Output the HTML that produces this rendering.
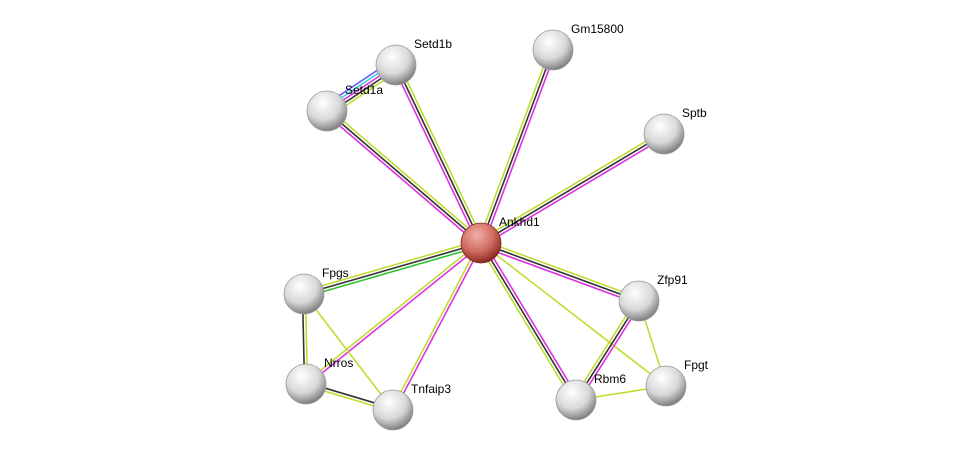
<!DOCTYPE html>
<html><head><meta charset="utf-8"><style>
html,body{margin:0;padding:0;background:#fff;width:976px;height:455px;overflow:hidden}
text{font-family:"Liberation Sans",sans-serif;font-size:12px;fill:#000}
</style></head><body>
<svg id="s" width="976" height="455" xmlns="http://www.w3.org/2000/svg">
<defs>
<radialGradient id="g" cx="40%" cy="30%" r="70%">
<stop offset="0" stop-color="#ffffff"/><stop offset="0.6" stop-color="#d8d8d8"/><stop offset="1" stop-color="#808080"/></radialGradient>
<radialGradient id="r" cx="40%" cy="30%" r="70%">
<stop offset="0" stop-color="#f2b0a8"/><stop offset="0.6" stop-color="#d06a60"/><stop offset="1" stop-color="#8a2a22"/></radialGradient>
</defs>
<g id="edges"></g><g id="nodes"></g>
</svg>
<script>
var N={Ankhd1:[481,243],Setd1b:[396,65],Setd1a:[327,111],Gm15800:[553,50],Sptb:[664,134],Fpgs:[304,294],Nrros:[306,384],Tnfaip3:[393,410],Zfp91:[639,301],Rbm6:[576,400],Fpgt:[666,386]};
var M="#e030e0",K="#333",Y="#c0dc30",G="#30c030",B="#6060ff",C="#40d0e0";
var E=[["Ankhd1","Setd1a",[M,K,Y]],["Ankhd1","Setd1b",[M,K,Y]],["Setd1a","Setd1b",[B,C,M,K,Y]],["Ankhd1","Gm15800",[Y,K,M]],["Ankhd1","Sptb",[Y,K,M]],["Ankhd1","Fpgs",[G,K,Y]],["Ankhd1","Nrros",[M,Y]],["Ankhd1","Tnfaip3",[M,Y]],["Ankhd1","Rbm6",[M,K,Y]],["Ankhd1","Zfp91",[Y,K,M]],["Ankhd1","Fpgt",[Y]],["Fpgs","Nrros",[Y,K]],["Fpgs","Tnfaip3",[Y]],["Nrros","Tnfaip3",[K,Y]],["Zfp91","Rbm6",[M,K,Y]],["Zfp91","Fpgt",[Y]],["Rbm6","Fpgt",[Y]]];
var ns="http://www.w3.org/2000/svg",eg=document.getElementById("edges"),ng=document.getElementById("nodes");
E.forEach(function(e){var a=N[e[0]],b=N[e[1]],dx=b[0]-a[0],dy=b[1]-a[1],l=Math.hypot(dx,dy),px=-dy/l,py=dx/l,n=e[2].length;
e[2].forEach(function(c,i){var o=(i-(n-1)/2)*3;var L=document.createElementNS(ns,"line");
L.setAttribute("x1",a[0]+px*o);L.setAttribute("y1",a[1]+py*o);L.setAttribute("x2",b[0]+px*o);L.setAttribute("y2",b[1]+py*o);
L.setAttribute("stroke",c);L.setAttribute("stroke-width",1.6);eg.appendChild(L);});});
for(var k in N){var p=N[k];var c=document.createElementNS(ns,"circle");c.setAttribute("cx",p[0]);c.setAttribute("cy",p[1]);c.setAttribute("r",20);
c.setAttribute("fill",k=="Ankhd1"?"url(#r)":"url(#g)");c.setAttribute("stroke",k=="Ankhd1"?"#7a2a22":"#999");c.setAttribute("stroke-width",0.8);ng.appendChild(c);
var t=document.createElementNS(ns,"text");t.setAttribute("x",p[0]+18);t.setAttribute("y",p[1]-17);t.textContent=k;ng.appendChild(t);}
</script>
</body></html>
